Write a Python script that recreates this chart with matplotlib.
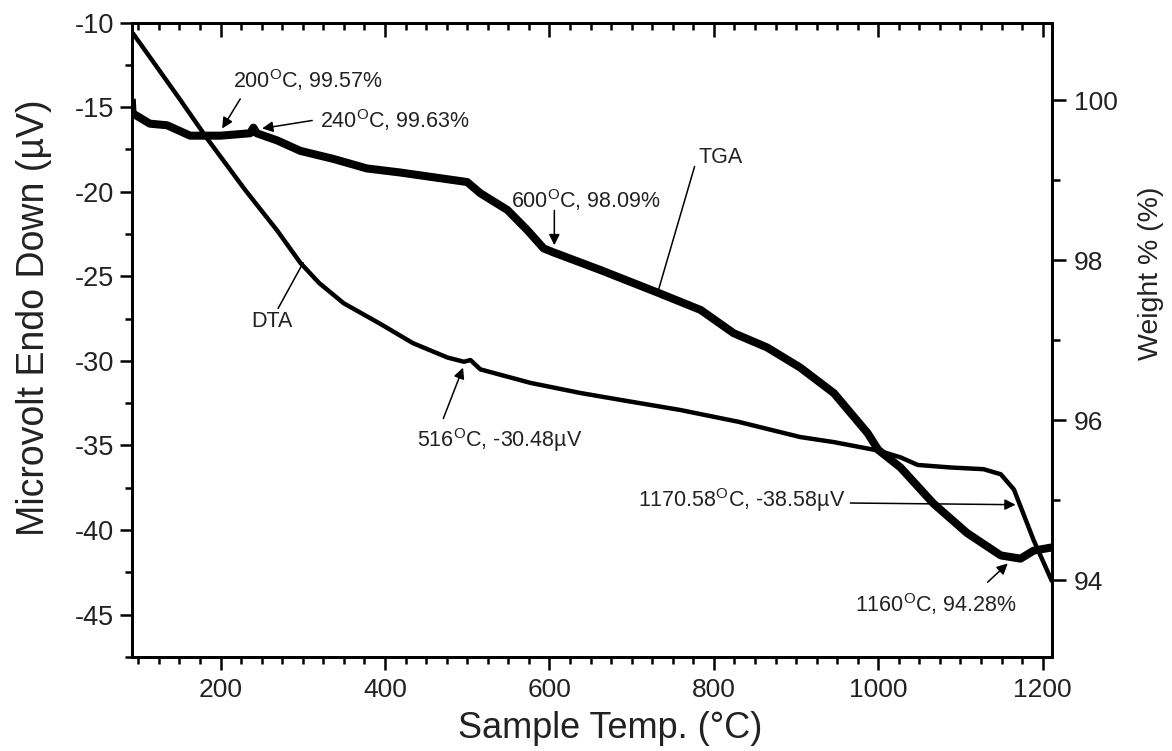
import matplotlib
matplotlib.use("Agg")
import matplotlib.pyplot as plt
from matplotlib.ticker import MultipleLocator

plt.rcParams['font.family'] = ['Liberation Sans', 'DejaVu Sans']
plt.rcParams['mathtext.default'] = 'regular'
plt.rcParams['axes.unicode_minus'] = False

# DTA (left axis, microvolt)
dta_temp = [93.6, 120, 150, 183.6, 230, 269, 297, 320, 350, 394, 434, 476, 496, 504, 516,
            577, 638, 698, 759, 830, 905, 946, 1000, 1027, 1048, 1088, 1128, 1149,
            1165, 1173, 1189, 1211]
dta_uv = [-10.65, -12.45, -14.5, -16.85, -19.9, -22.3, -24.2, -25.4, -26.6, -27.8, -28.95,
          -29.8, -30.05, -29.95, -30.5, -31.3, -31.9, -32.4, -32.9, -33.6, -34.5,
          -34.8, -35.3, -35.7, -36.15, -36.3, -36.4, -36.7, -37.6, -38.6, -40.6, -43.0]

# TGA (right axis, weight %)
tga_temp = [92, 93, 114, 135, 163, 200, 236, 240, 244, 269, 297, 337, 378, 418, 459,
            500, 516, 549, 573, 593, 605, 662, 731, 784, 824, 865, 905, 946, 987,
            1000, 1027, 1067, 1108, 1149, 1173, 1189, 1211]
tga_wt = [100.02, 99.84, 99.71, 99.69, 99.56, 99.56, 99.59, 99.66, 99.59, 99.5, 99.37,
          99.27, 99.15, 99.1, 99.04, 98.98, 98.84, 98.63, 98.38, 98.15, 98.1, 97.88,
          97.6, 97.38, 97.09, 96.91, 96.66, 96.34, 95.84, 95.63, 95.41, 94.96, 94.59,
          94.31, 94.27, 94.37, 94.41]

left_ticks = [-45, -40, -35, -30, -25, -20, -15, -10]
right_ticks = [94, 96, 98, 100]
x_ticks = [200, 400, 600, 800, 1000, 1200]

TXT = '#222222'

fig = plt.figure(figsize=(11.72, 7.51), dpi=100)
ax = fig.add_axes([0.1124, 0.1252, 0.785, 0.8448])
ax2 = ax.twinx()

ax.plot(dta_temp, dta_uv, color='black', lw=3.2, solid_joinstyle='round', solid_capstyle='round')
ax2.plot(tga_temp, tga_wt, color='black', lw=5.8, solid_joinstyle='round', solid_capstyle='butt')

ax.set_xlim(92, 1211)
ax.set_ylim(-47.5, -10)
ax2.set_ylim(93.04, 100.975)

ax.set_xticks(x_ticks)
ax.xaxis.set_minor_locator(MultipleLocator(25))
ax.set_yticks(left_ticks)
ax.set_yticklabels([str(v) for v in left_ticks])
ax.yaxis.set_minor_locator(MultipleLocator(2.5))
ax2.set_yticks(right_ticks)
ax2.yaxis.set_minor_locator(MultipleLocator(1))

for a in (ax, ax2):
    for s in a.spines.values():
        s.set_linewidth(2.0)

ax.tick_params(axis='x', which='major', direction='out', length=9, width=1.8,
               labelsize=19, pad=6, colors='black', labelcolor=TXT, top=True)
ax.tick_params(axis='x', which='minor', direction='out', length=5, width=1.8, top=True)
ax.tick_params(axis='y', which='major', direction='out', length=9, width=1.8,
               labelsize=19.5, pad=4, labelcolor=TXT)
ax.tick_params(axis='y', which='minor', direction='out', length=5, width=1.8)
ax2.tick_params(axis='y', which='major', direction='out', length=10, width=1.8,
                labelsize=19, pad=6, labelcolor=TXT)
ax2.tick_params(axis='y', which='minor', direction='out', length=6, width=1.8)
ax.tick_params(axis='x', which='both', top=True, labeltop=False)
for t in ax.xaxis.get_major_ticks():
    t.tick2line.set_marker(3)
    t.tick2line.set_markersize(10)
for t in ax.xaxis.get_minor_ticks():
    t.tick2line.set_marker(3)
    t.tick2line.set_markersize(5)

ax.set_xlabel('Sample Temp. (°C)', fontsize=26, color=TXT, labelpad=4)
ax.xaxis.set_label_coords(0.52, -0.085)
ax.set_ylabel('Microvolt Endo Down (µV)', fontsize=27, color=TXT, labelpad=6)
ax.yaxis.set_label_coords(-0.087, 0.535)
ax2.set_ylabel('Weight % (%)', fontsize=20.5, color=TXT, labelpad=14)
ax2.yaxis.set_label_coords(1.094, 0.605)

afs = 15.5
arr = dict(arrowstyle='-|>', color='black', lw=1.1, mutation_scale=16, shrinkA=0, shrinkB=0)
line = dict(arrowstyle='-', color='black', lw=1.1, shrinkA=0, shrinkB=0)

# TGA annotations (right axis)
ax2.text(306.7, 100.25, '200$^{O}$C, 99.57%', fontsize=afs, color=TXT, ha='center', va='center')
ax2.annotate('', xy=(202, 99.65), xytext=(224, 100.02), arrowprops=arr)
ax2.text(321, 99.75, '240$^{O}$C, 99.63%', fontsize=afs, color=TXT, ha='left', va='center')
ax2.annotate('', xy=(250.6, 99.65), xytext=(311.5, 99.75), arrowprops=arr)
ax2.text(644, 98.75, '600$^{O}$C, 98.09%', fontsize=afs, color=TXT, ha='center', va='center')
ax2.annotate('', xy=(606, 98.19), xytext=(606, 98.625), arrowprops=arr)
ax2.text(808, 99.29, 'TGA', fontsize=afs, color=TXT, ha='center', va='center')
ax2.annotate('', xy=(731.5, 97.59), xytext=(776.6, 99.175), arrowprops=line)
ax2.text(1070, 93.7, '1160$^{O}$C, 94.28%', fontsize=afs, color=TXT, ha='center', va='center')
ax2.annotate('', xy=(1157.5, 94.21), xytext=(1133, 93.975), arrowprops=arr)

# DTA annotations (left axis)
ax.text(263, -27.7, 'DTA', fontsize=afs, color=TXT, ha='center', va='center')
ax.annotate('', xy=(300.5, -24.2), xytext=(270, -26.9), arrowprops=line)
ax.text(540, -34.7, '516$^{O}$C, -30.48µV', fontsize=afs, color=TXT, ha='center', va='center')
ax.annotate('', xy=(495, -30.4), xytext=(471, -33.4), arrowprops=arr)
ax.text(960, -38.2, '1170.58$^{O}$C, -38.58µV', fontsize=afs, color=TXT, ha='right', va='center')
ax.annotate('', xy=(1167, -38.5), xytext=(966, -38.4), arrowprops=arr)

fig.savefig('out.png', dpi=100)
